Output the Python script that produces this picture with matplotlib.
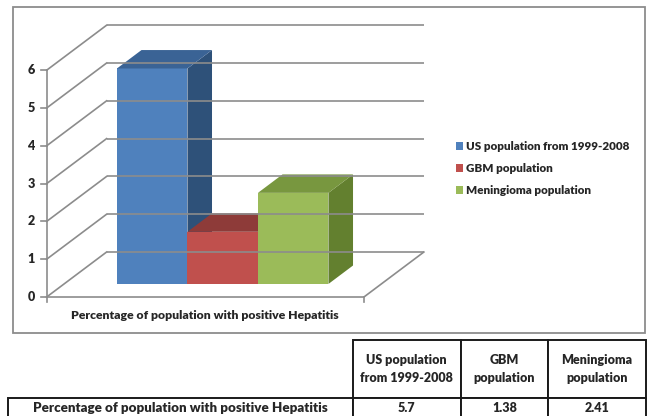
import matplotlib.pyplot as plt
from matplotlib.patches import Polygon, Rectangle, Patch
from matplotlib.table import Table

plt.rcParams['font.family'] = ['Lato', 'DejaVu Sans']
plt.rcParams['font.weight'] = 'heavy'

groups = ['US population from 1999-2008', 'GBM population', 'Meningioma population']
header_labels = ['US population\nfrom 1999-2008', 'GBM\npopulation', 'Meningioma\npopulation']
values = [5.7, 1.38, 2.41]
value_text = ['5.7', '1.38', '2.41']
row_label = 'Percentage of population with positive Hepatitis'
yticks = [0, 1, 2, 3, 4, 5, 6]

front_colors = ['#4f81bd', '#c0504d', '#9bbb59']
side_colors = ['#2e5179', '#8a3432', '#63802f']
top_colors = ['#3a6395', '#8e3b39', '#78973f']
grid_color = '#8c8c8c'
text_color = '#262626'

# oblique projection: depth d in [0, 1] shifts right and up
DX, DY = 0.85, 1.19
BAR_D0, BAR_D1 = 0.29, 0.70
GAP = 0.75


def proj(x, v, d):
    return x + d * DX, v + d * DY


fig = plt.figure(figsize=(6.49, 4.16), dpi=100)
ax = fig.add_axes([0, 0, 1, 1])
ax.set_xlim(-1.912, 7.293)
ax.set_ylim(-3.148, 7.857)
ax.axis('off')

x0 = -0.5 - GAP
x1 = len(values) - 0.5 + GAP

# walls: back gridlines and side-wall diagonals
for y in yticks:
    bx, by = zip(proj(x0, y, 1), proj(x1, y, 1))
    ax.plot(bx, by, color=grid_color, lw=1.2, solid_capstyle='butt')
    sx, sy = zip(proj(x0, y, 0), proj(x0, y, 1))
    ax.plot(sx, sy, color=grid_color, lw=1.2)
    ax.plot([x0 - 0.08, x0], [y, y], color=grid_color, lw=1.2)
    ax.text(x0 - 0.17, y, str(y), ha='right', va='center', fontsize=9,
            color=text_color)

ax.plot([x0, x0], [0, yticks[-1]], color=grid_color, lw=1.2)

# floor outline
fx, fy = zip(proj(x0, 0, 0), proj(x1, 0, 0), proj(x1, 0, 1))
ax.plot(fx, fy, color=grid_color, lw=1.2)
for xe in (x0, x1):
    ax.plot([xe, xe], [0, -0.14], color=grid_color, lw=1.2)

# 3-D bars: front, right side, top
for i, v in enumerate(values):
    xl, xr = i - 0.5, i + 0.5
    front = [proj(xl, 0, BAR_D0), proj(xr, 0, BAR_D0),
             proj(xr, v, BAR_D0), proj(xl, v, BAR_D0)]
    side = [proj(xr, 0, BAR_D0), proj(xr, 0, BAR_D1),
            proj(xr, v, BAR_D1), proj(xr, v, BAR_D0)]
    top = [proj(xl, v, BAR_D0), proj(xr, v, BAR_D0),
           proj(xr, v, BAR_D1), proj(xl, v, BAR_D1)]
    ax.add_patch(Polygon(side, closed=True, fc=side_colors[i], ec='none'))
    ax.add_patch(Polygon(front, closed=True, fc=front_colors[i], ec='none'))
    ax.add_patch(Polygon(top, closed=True, fc=top_colors[i], ec='none'))

ax.text((x0 + x1) / 2, -0.48, row_label, ha='center', va='center',
        fontsize=8.8, color=text_color)

handles = [Patch(fc=c, ec='none') for c in front_colors]
ax.legend(handles, groups, loc='upper left', bbox_to_anchor=(0.694, 0.675),
          frameon=False, fontsize=8.4, handlelength=0.6, handleheight=0.75,
          handletextpad=0.25, labelspacing=0.95, borderpad=0,
          labelcolor=text_color)

# chart frame
fig.patches.append(Rectangle((13 / 649, 83 / 416), 632 / 649, 326 / 416,
                             transform=fig.transFigure, fill=False,
                             ec='#8c8c8c', lw=1.3))

# data table below the chart
col_w = [344.4, 108, 87.6, 97.7]
row_h = [58, 21]
tab = Table(ax, bbox=[8.3 / 649, -3 / 416, sum(col_w) / 649, sum(row_h) / 416])
blank = tab.add_cell(0, 0, col_w[0], row_h[0], text='')
blank.visible_edges = 'open'
for j, lab in enumerate(header_labels):
    tab.add_cell(0, j + 1, col_w[j + 1], row_h[0], text=lab, loc='center')
tab.add_cell(1, 0, col_w[0], row_h[1], text=row_label, loc='center')
for j, t in enumerate(value_text):
    tab.add_cell(1, j + 1, col_w[j + 1], row_h[1], text=t, loc='center')
tab.auto_set_font_size(False)
tab.set_fontsize(9)
for cell in tab.get_celld().values():
    cell.set_linewidth(1.4)
    cell.set_edgecolor('#1a1a1a')
    cell.get_text().set_fontweight('heavy')
    cell.get_text().set_linespacing(1.6)
    cell.get_text().set_color(text_color)
tab[1, 0].get_text().set_fontsize(9.6)
ax.add_table(tab)

fig.savefig('out.png', dpi=100)
